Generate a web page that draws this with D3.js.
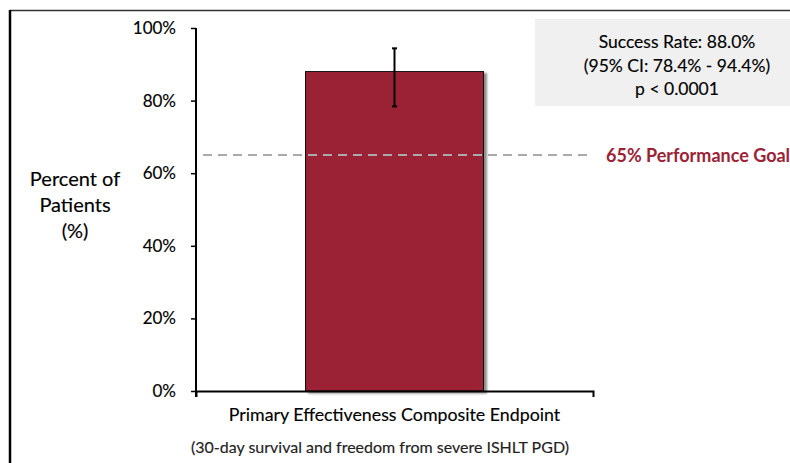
<!DOCTYPE html>
<html>
<head>
<meta charset="utf-8">
<script src="https://cdn.jsdelivr.net/npm/d3@7"></script>
<style>
  html, body { margin: 0; padding: 0; background: #fff; }
  svg { display: block; font-family: Lato, "Open Sans", sans-serif; }
  .heavy { stroke: currentColor; stroke-width: 0.15px; paint-order: stroke; }
</style>
</head>
<body>
<svg id="chart" width="790" height="463"></svg>
<script>
// Primary effectiveness endpoint: success rate with 95% CI against a performance goal
const categories = ["Primary Effectiveness Composite Endpoint"];
const successRate = [88.0];
const ciLower = [78.4];
const ciUpper = [94.4];
const performanceGoal = [65];
const yTicks = [0, 20, 40, 60, 80, 100];
const statsLines = ["Success Rate: 88.0%", "(95% CI: 78.4% - 94.4%)", "p < 0.0001"];
const yTitleLines = ["Percent of", "Patients", "(%)"];
const subtitle = "(30-day survival and freedom from severe ISHLT PGD)";

const svg = d3.select("#chart");
const barColor = "#9b2335";

const x = d3.scaleBand().domain(categories).range([196, 593]).paddingInner(0.381).paddingOuter(0.381);
const y = d3.scaleLinear().domain([0, 100]).range([391, 28]);

// outer frame (top and left edges)
svg.append("line").attr("x1", 10).attr("x2", 790).attr("y1", 10.5).attr("y2", 10.5)
  .attr("stroke", "#333").attr("stroke-width", 1.5);
svg.append("line").attr("x1", 10).attr("x2", 10).attr("y1", 10).attr("y2", 463)
  .attr("stroke", "#000").attr("stroke-width", 2.5);

// statistics box
const box = svg.append("g");
box.append("rect").attr("x", 535).attr("y", 19).attr("width", 255).attr("height", 87).attr("fill", "#f0f0f0");
box.selectAll("text").data(statsLines).join("text")
  .attr("class", "heavy").style("color", "#000")
  .attr("x", 677).attr("y", (d, i) => 48 + i * 23.5)
  .attr("text-anchor", "middle").attr("font-size", 17.5).attr("fill", "#000")
  .text(d => d);

// bars with a soft drop shadow
const defs = svg.append("defs");
const f = defs.append("filter").attr("id", "shadow").attr("x", "-10%").attr("y", "-10%").attr("width", "130%").attr("height", "130%");
f.append("feGaussianBlur").attr("in", "SourceAlpha").attr("stdDeviation", 1);
f.append("feOffset").attr("dx", 2.5).attr("dy", 2).attr("result", "ob");
f.append("feFlood").attr("flood-color", "#000").attr("flood-opacity", 0.45);
f.append("feComposite").attr("in2", "ob").attr("operator", "in");
const m = f.append("feMerge");
m.append("feMergeNode");
m.append("feMergeNode").attr("in", "SourceGraphic");

svg.selectAll("rect.bar").data(categories).join("rect").attr("class", "bar")
  .attr("x", d => x(d)).attr("width", x.bandwidth())
  .attr("y", (d, i) => y(successRate[i])).attr("height", (d, i) => y(0) - y(successRate[i]))
  .attr("fill", barColor).attr("stroke", "#111").attr("stroke-width", 1)
  .attr("filter", "url(#shadow)");

// error bars (95% CI)
const eb = svg.selectAll("g.err").data(categories).join("g").attr("class", "err")
  .attr("stroke", "#000").attr("stroke-width", 2);
eb.append("line")
  .attr("x1", d => x(d) + x.bandwidth() / 2).attr("x2", d => x(d) + x.bandwidth() / 2)
  .attr("y1", (d, i) => y(ciUpper[i])).attr("y2", (d, i) => y(ciLower[i]));
eb.append("line")
  .attr("x1", d => x(d) + x.bandwidth() / 2 - 2.5).attr("x2", d => x(d) + x.bandwidth() / 2 + 2.5)
  .attr("y1", (d, i) => y(ciUpper[i])).attr("y2", (d, i) => y(ciUpper[i]));
eb.append("line")
  .attr("x1", d => x(d) + x.bandwidth() / 2 - 2.5).attr("x2", d => x(d) + x.bandwidth() / 2 + 2.5)
  .attr("y1", (d, i) => y(ciLower[i])).attr("y2", (d, i) => y(ciLower[i]));

// performance goal reference line
svg.append("line")
  .attr("x1", 203).attr("x2", 593).attr("y1", y(performanceGoal[0])).attr("y2", y(performanceGoal[0]))
  .attr("stroke", "#aaa").attr("stroke-width", 2).attr("stroke-dasharray", "9,6");
svg.append("text").attr("x", 606).attr("y", y(performanceGoal[0]) + 6.5)
  .attr("font-size", 18).attr("font-weight", 700).attr("fill", barColor)
  .text(performanceGoal[0] + "% Performance Goal");

// y axis
const yAxis = svg.append("g").attr("transform", "translate(196,0)")
  .call(d3.axisLeft(y).tickValues(yTicks).tickSize(5).tickSizeOuter(0).tickPadding(15).tickFormat(d => d + "%"));
yAxis.select(".domain").attr("stroke", "#000").attr("stroke-width", 2).attr("d", "M0,28V397");
yAxis.selectAll(".tick line").attr("stroke", "#000").attr("stroke-width", 1.5);
yAxis.selectAll(".tick text").attr("class", "heavy").style("color", "#000")
  .attr("font-size", 17).attr("font-weight", 400).attr("fill", "#000")
  .attr("font-family", "Lato, sans-serif");

// x axis
const xAxis = svg.append("g").attr("transform", "translate(0,391)")
  .call(d3.axisBottom(x).tickSize(0).tickSizeOuter(6));
xAxis.select(".domain").attr("stroke", "#000").attr("stroke-width", 2);
xAxis.selectAll(".tick text").attr("class", "heavy").style("color", "#000")
  .attr("font-size", 17.8).attr("fill", "#000")
  .attr("font-family", "Lato, sans-serif").attr("y", 30).attr("dy", 0);

// subtitle under the category label
svg.append("text").attr("class", "heavy").style("color", "#222")
  .attr("x", 380).attr("y", 453).attr("text-anchor", "middle")
  .attr("font-size", 16).attr("fill", "#222").text(subtitle);

// y axis title
svg.append("g").selectAll("text").data(yTitleLines).join("text")
  .attr("class", "heavy").style("color", "#000")
  .attr("x", 75).attr("y", (d, i) => 186 + i * 26)
  .attr("text-anchor", "middle").attr("font-size", 20).attr("font-weight", 400).attr("fill", "#000")
  .text(d => d);
</script>
</body>
</html>
